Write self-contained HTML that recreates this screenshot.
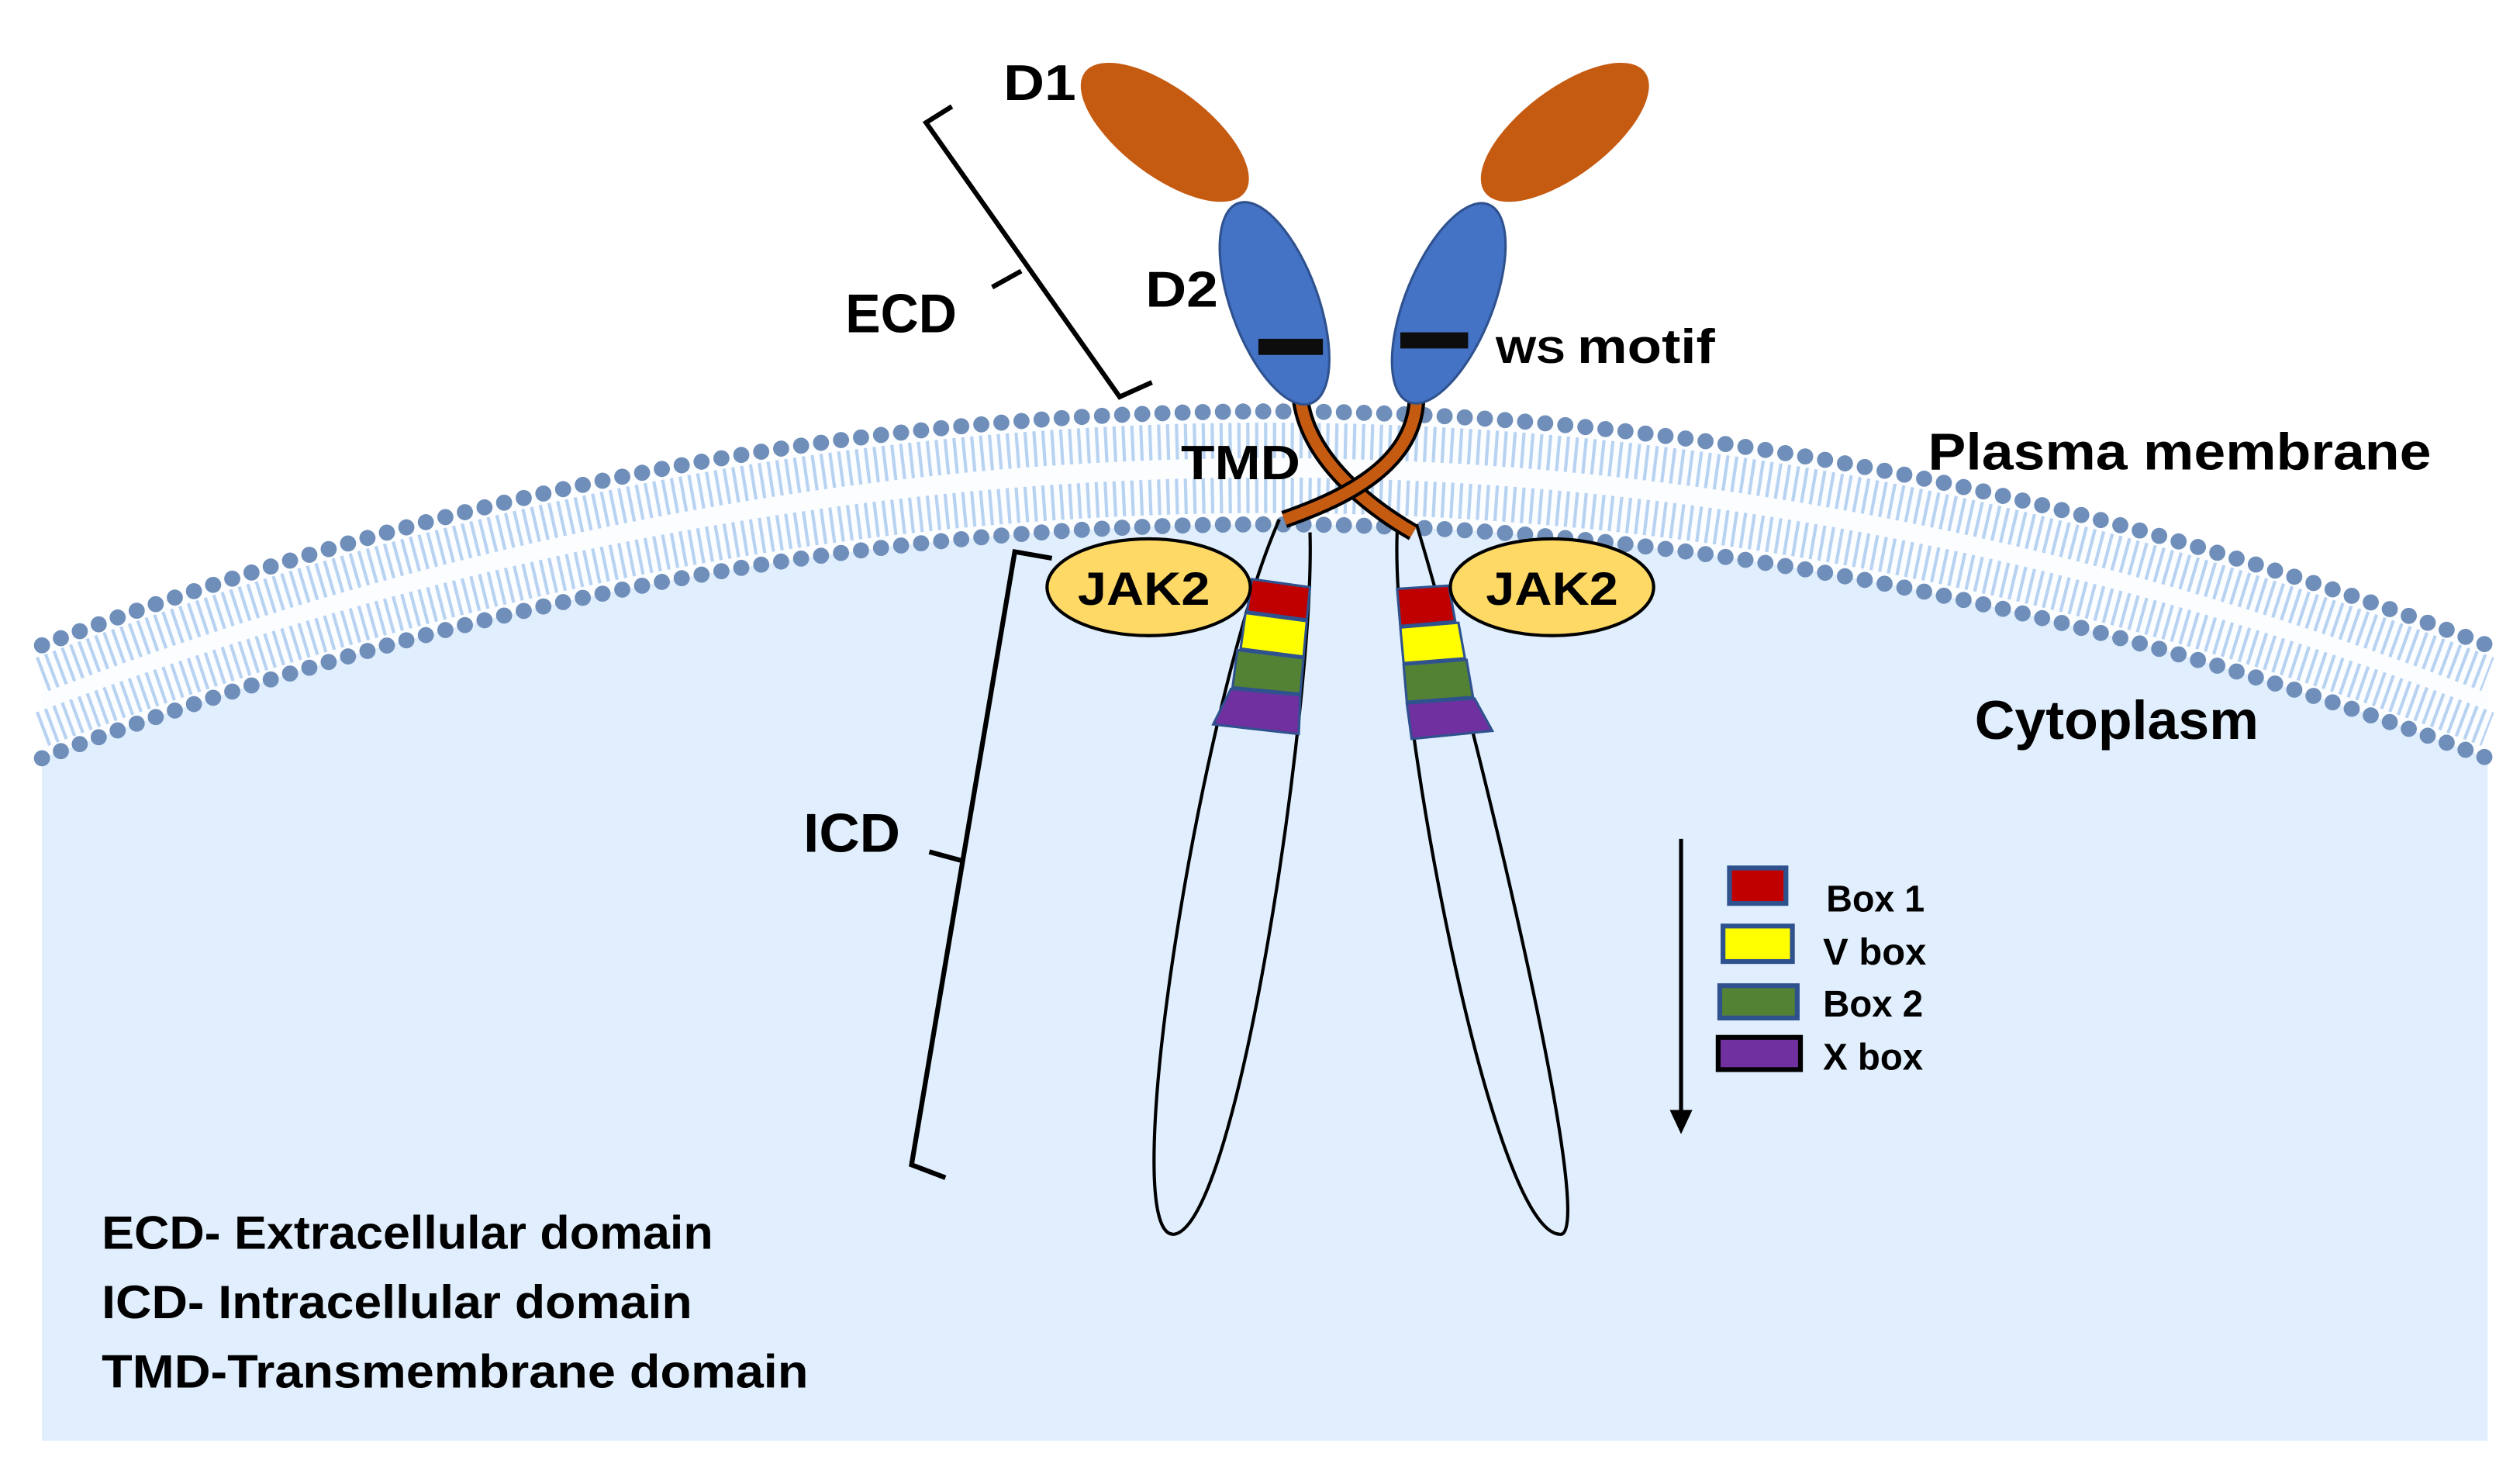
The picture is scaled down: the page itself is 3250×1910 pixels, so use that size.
<!DOCTYPE html>
<html><head><meta charset="utf-8"><style>
html,body{margin:0;padding:0;background:#fff;width:3250px;height:1910px;overflow:hidden}
svg{display:block}
text{font-family:"Liberation Sans",sans-serif;font-weight:bold;fill:#000}
</style></head><body>
<svg width="3250" height="1910" viewBox="0 0 1562 918" xmlns="http://www.w3.org/2000/svg">
<rect width="1562" height="918" fill="#fff"/>
<path d="M26 470 Q790 180 1542 470 L1542 893 L26 893 Z" fill="#e0eefd"/>
<path d="M26 400 Q790 110 1542 400 L1542 470 Q790 180 26 470 Z" fill="#fbfdff"/>
<path d="M26 418 Q790 128 1542 418" fill="none" stroke="#b8d2f2" stroke-width="22" stroke-dasharray="2 3.5"/>
<path d="M26 452 Q790 162 1542 452" fill="none" stroke="#b8d2f2" stroke-width="22" stroke-dasharray="2 3.5"/>
<path d="M26 400 Q790 110 1542 400" fill="none" stroke="#6f8fba" stroke-width="10" stroke-linecap="round" stroke-dasharray="0 12.5"/>
<path d="M26 470 Q790 180 1542 470" fill="none" stroke="#6f8fba" stroke-width="10" stroke-linecap="round" stroke-dasharray="0 12.5"/>
<path d="M793 322 C745 430 690 770 728 765 C768 758 815 430 812 330" fill="none" stroke="#000" stroke-width="2"/>
<path d="M866 330 C862 430 925 770 968 765 C990 758 910 430 878 325" fill="none" stroke="#000" stroke-width="2"/>
<ellipse cx="722" cy="82" rx="62" ry="27" transform="rotate(37 722 82)" fill="#c55a11"/>
<ellipse cx="970" cy="82" rx="62" ry="27" transform="rotate(-37 970 82)" fill="#c55a11"/>
<path d="M806 246 C810 285 850 315 876 330" fill="none" stroke="#000" stroke-width="11"/>
<path d="M806 246 C810 285 850 315 876 330" fill="none" stroke="#c55a11" stroke-width="7"/>
<path d="M878 248 C876 290 830 310 796 322" fill="none" stroke="#000" stroke-width="11"/>
<path d="M878 248 C876 290 830 310 796 322" fill="none" stroke="#c55a11" stroke-width="7"/>
<ellipse cx="790" cy="188" rx="27" ry="66" transform="rotate(-20 790 188)" fill="#4472c4" stroke="#2f528f" stroke-width="1.5"/>
<ellipse cx="898" cy="188" rx="27" ry="66" transform="rotate(22 898 188)" fill="#4472c4" stroke="#2f528f" stroke-width="1.5"/>
<rect x="780" y="210" width="40" height="10" fill="#0d0d0d"/>
<rect x="868" y="206" width="42" height="10" fill="#0d0d0d"/>
<g stroke="#2f528f" stroke-width="1.5">
<polygon points="776,359 812,364 810,384 773,379" fill="#c00000"/>
<polygon points="772,380 810,385 808,407 769,402" fill="#ffff00"/>
<polygon points="767,403 808,408 806,430 764,426" fill="#548235"/>
<polygon points="763,427 806,431 805,455 752,449" fill="#7030a0"/>
<polygon points="866,365 898,363 902,385 868,388" fill="#c00000"/>
<polygon points="868,389 904,386 908,408 870,411" fill="#ffff00"/>
<polygon points="870,412 909,409 913,432 872,435" fill="#548235"/>
<polygon points="872,436 914,433 925,453 875,458" fill="#7030a0"/>
</g>
<ellipse cx="712" cy="364" rx="63" ry="30" fill="#ffd966" stroke="#000" stroke-width="2"/>
<ellipse cx="962" cy="364" rx="63" ry="30" fill="#ffd966" stroke="#000" stroke-width="2"/>
<text x="668" y="375" font-size="29" textLength="82" lengthAdjust="spacingAndGlyphs">JAK2</text>
<text x="921" y="375" font-size="29" textLength="82" lengthAdjust="spacingAndGlyphs">JAK2</text>
<path d="M590 66 L574 76 L694 246 L714 237" fill="none" stroke="#000" stroke-width="3"/>
<path d="M633 168 L615 178" fill="none" stroke="#000" stroke-width="3"/>
<path d="M652 346 L629 342 L565 722 L586 730" fill="none" stroke="#000" stroke-width="3"/>
<path d="M598 534 L576 528" fill="none" stroke="#000" stroke-width="3"/>
<text x="622" y="62" font-size="31" textLength="45" lengthAdjust="spacingAndGlyphs">D1</text>
<text x="710" y="190" font-size="31" textLength="45" lengthAdjust="spacingAndGlyphs">D2</text>
<text x="524" y="206" font-size="34" textLength="69" lengthAdjust="spacingAndGlyphs">ECD</text>
<text x="927" y="225" font-size="23" textLength="136" lengthAdjust="spacingAndGlyphs">WS <tspan font-size="30">motif</tspan></text>
<text x="732" y="297" font-size="30" textLength="74" lengthAdjust="spacingAndGlyphs">TMD</text>
<text x="1195" y="291" font-size="32" textLength="312" lengthAdjust="spacingAndGlyphs">Plasma membrane</text>
<text x="1224" y="458" font-size="34" textLength="176" lengthAdjust="spacingAndGlyphs">Cytoplasm</text>
<text x="498" y="528" font-size="34" textLength="60" lengthAdjust="spacingAndGlyphs">ICD</text>
<line x1="1042" y1="520" x2="1042" y2="690" stroke="#000" stroke-width="2.5"/>
<polygon points="1035,688 1049,688 1042,703" fill="#000"/>
<rect x="1072" y="538" width="35" height="22" fill="#c00000" stroke="#2f528f" stroke-width="3"/>
<rect x="1068" y="574" width="43" height="22" fill="#ffff00" stroke="#2f528f" stroke-width="3"/>
<rect x="1066" y="611" width="48" height="20" fill="#548235" stroke="#2f528f" stroke-width="3"/>
<rect x="1065" y="643" width="51" height="20" fill="#7030a0" stroke="#000" stroke-width="3"/>
<text x="1132" y="565" font-size="23" textLength="61" lengthAdjust="spacingAndGlyphs">Box 1</text>
<text x="1130" y="598" font-size="23" textLength="64" lengthAdjust="spacingAndGlyphs">V box</text>
<text x="1130" y="630" font-size="23" textLength="62" lengthAdjust="spacingAndGlyphs">Box 2</text>
<text x="1130" y="663" font-size="23" textLength="62" lengthAdjust="spacingAndGlyphs">X box</text>
<text x="63" y="774" font-size="29" textLength="379" lengthAdjust="spacingAndGlyphs">ECD- Extracellular domain</text>
<text x="63" y="817" font-size="29" textLength="366" lengthAdjust="spacingAndGlyphs">ICD- Intracellular domain</text>
<text x="63" y="860" font-size="29" textLength="438" lengthAdjust="spacingAndGlyphs">TMD-Transmembrane domain</text>
</svg>
</body></html>
